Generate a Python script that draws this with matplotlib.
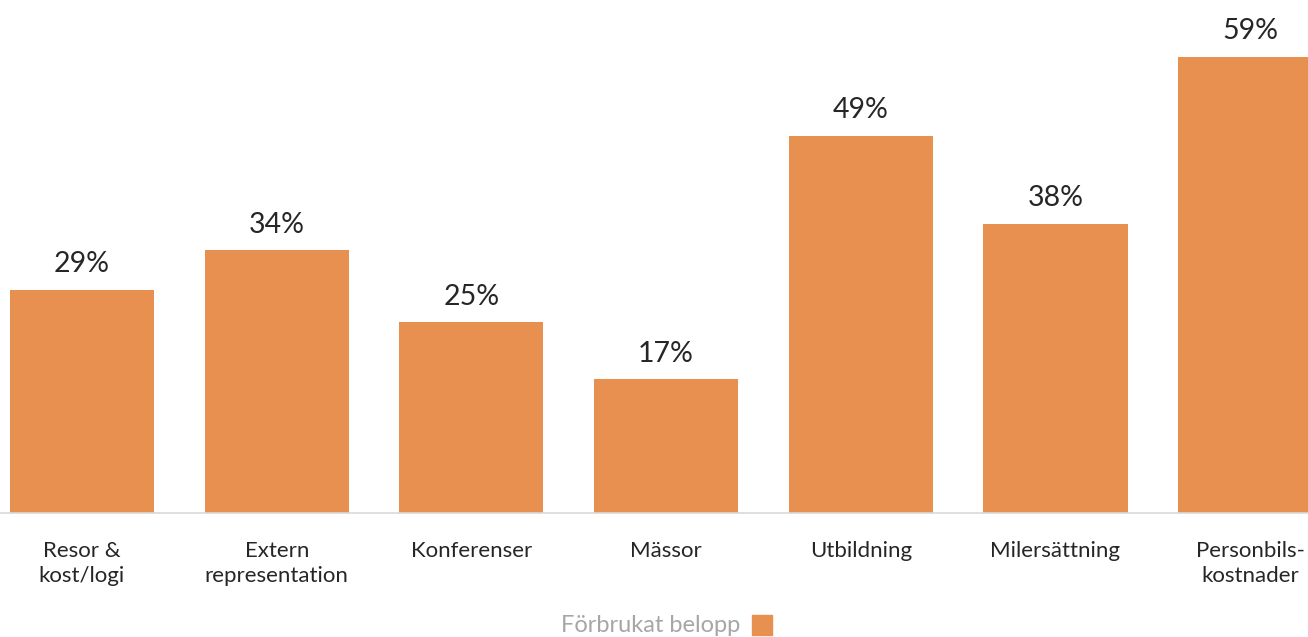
import matplotlib
matplotlib.use("Agg")
import matplotlib.pyplot as plt

categories = ["Resor &\nkost/logi", "Extern\nrepresentation", "Konferenser", "Mässor",
              "Utbildning", "Milersättning", "Personbils-\nkostnader"]
values = [28.9, 34.0, 24.7, 17.3, 48.8, 37.4, 59.0]
value_labels = ["29%", "34%", "25%", "17%", "49%", "38%", "59%"]
series_name = "Förbrukat belopp"

plt.rcParams['font.family'] = ['Lato', 'DejaVu Sans']
color = "#E8904F"

fig = plt.figure(figsize=(13.08, 6.37), dpi=100)
ax = fig.add_axes([0, (637 - 513) / 637, 1, 513 / 637])
x = list(range(len(categories)))
ax.bar(x, values, width=0.74, color=color, zorder=2)
pitch = 194.7
ax.set_xlim(-82 / pitch, (1308 - 82) / pitch)
ax.set_ylim(0, 513 / 7.73)
for xi, v, lab in zip(x, values, value_labels):
    ax.annotate(lab, (xi, v), xytext=(0, 9), textcoords="offset points",
                ha="center", va="bottom", fontsize=20.5, color="#262626")
for s in ["top", "right", "left"]:
    ax.spines[s].set_visible(False)
ax.spines["bottom"].set_color("#d9d9d9")
ax.spines["bottom"].set_linewidth(1.2)
ax.set_yticks([])
ax.set_xticks(x)
ax.set_xticklabels(categories, fontsize=16, color="#262626", linespacing=1.35)
ax.tick_params(axis="x", length=0, pad=20)

fig.text(740 / 1308, 1 - 625 / 637, series_name, ha="right", va="center",
         fontsize=17, color="#a6a6a6")
fig.patches.append(plt.Rectangle((752 / 1308, 1 - 635 / 637), 20 / 1308, 20 / 637,
                                 transform=fig.transFigure, color=color))
fig.savefig("out.png", dpi=100)
